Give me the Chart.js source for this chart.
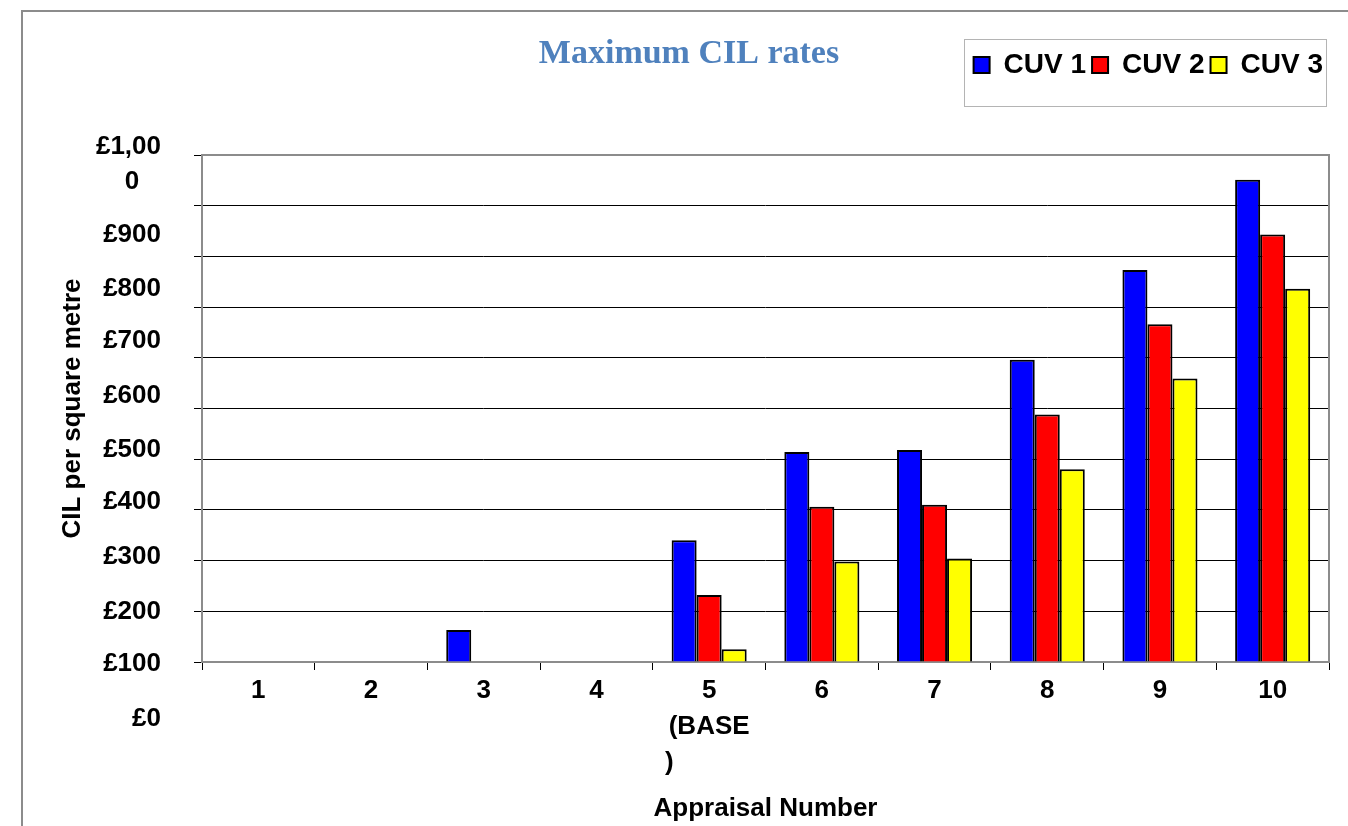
<!DOCTYPE html>
<html>
<head>
<meta charset="utf-8">
<script src="https://cdn.jsdelivr.net/npm/chart.js@4.4.1/dist/chart.umd.min.js"></script>
<style>
html,body{margin:0;padding:0;background:#fff;overflow:hidden;}
#wrap{position:relative;width:1348px;height:826px;}
#frame{position:absolute;left:21px;top:10px;width:1400px;height:900px;border-left:2px solid #8c8c8c;border-top:2px solid #8c8c8c;pointer-events:none;}
canvas{position:absolute;left:0;top:0;}
</style>
</head>
<body>
<div id="wrap"><canvas id="c" width="1348" height="826"></canvas><div id="frame"></div></div>
<script>
// ---- data ----
const categories = ['1', '2', '3', '4', ['5', '(BASE', ')'], '6', '7', '8', '9', '10'];
const seriesNames = ['CUV 1', 'CUV 2', 'CUV 3'];
const cuv1 = [null, null, 63, null, 240, 414, 418, 596, 773, 951];
const cuv2 = [null, null, null, null, 132, 306, 310, 488, 666, 843];
const cuv3 = [null, null, null, null, 25, 198, 204, 380, 559, 736];
const yTickLabels = ['£0', '£100', '£200', '£300', '£400', '£500', '£600', '£700', '£800', '£900', ['£1,00', '0']];
const chartTitle = 'Maximum CIL rates';
const xAxisTitle = 'Appraisal Number';
const yAxisTitle = 'CIL per square metre';

// ---- styling ----
const SANS = "'Liberation Sans', Arial, sans-serif";
const SERIF = "'Liberation Serif', 'Times New Roman', serif";

const decorPlugin = {
  id: 'decor',
  beforeDatasetsDraw(chart) {
    const {ctx, chartArea: a} = chart;
    ctx.save();
    ctx.strokeStyle = '#8c8c8c';
    ctx.lineWidth = 2;
    ctx.strokeRect(a.left, a.top, a.right - a.left, a.bottom - a.top);
    ctx.restore();
  },
  afterDraw(chart) {
    const hb = chart.legend && chart.legend.legendHitBoxes;
    if (!hb || !hb.length) return;
    const ctx = chart.ctx;
    const first = hb[0], last = hb[hb.length - 1];
    const x0 = Math.round(first.left - 10), x1 = Math.round(last.left + last.width + 3);
    const y0 = Math.round(first.top - 12), y1 = Math.round(first.top + 55);
    ctx.save();
    ctx.strokeStyle = '#b4b4b4';
    ctx.lineWidth = 1;
    ctx.strokeRect(x0 + 0.5, y0 + 0.5, x1 - x0, y1 - y0);
    ctx.restore();
  }
};

// per-tick line heights (px) used to nudge the y tick labels like the reference
const yLabelLineHeights = [95, 87, 83, 75, 67, 63, 57, 49, 45, 39, 35];

new Chart(document.getElementById('c'), {
  type: 'bar',
  data: {
    labels: categories,
    datasets: [
      {label: seriesNames[0], data: cuv1, backgroundColor: '#0000ff', borderColor: '#000', borderWidth: 2},
      {label: seriesNames[1], data: cuv2, backgroundColor: '#ff0000', borderColor: '#000', borderWidth: 2},
      {label: seriesNames[2], data: cuv3, backgroundColor: '#ffff00', borderColor: '#000', borderWidth: 2}
    ]
  },
  options: {
    responsive: false,
    animation: false,
    devicePixelRatio: 1,
    datasets: {bar: {categoryPercentage: 0.666, barPercentage: 1.0}},
    layout: {padding: {left: 49, right: 19, top: 45, bottom: 0}},
    plugins: {
      tooltip: {enabled: false},
      title: {
        display: true,
        text: chartTitle,
        color: '#4F81BD',
        font: {family: SERIF, size: 34, weight: 'bold', lineHeight: 1.2},
        padding: {top: -55.4, bottom: 80.6},
        weight: 500
      },
      legend: {
        display: true,
        position: 'top',
        align: 'end',
        labels: {
          color: '#000',
          font: {family: SANS, size: 28, weight: 'bold'},
          boxWidth: 16,
          boxHeight: 16,
          padding: 6
        }
      }
    },
    scales: {
      x: {
        grid: {display: true, drawOnChartArea: false, drawTicks: true, tickLength: 8, color: '#000', lineWidth: 1, offset: true},
        border: {display: false},
        ticks: {
          color: '#000',
          font: {family: SANS, size: 26, weight: 'bold', lineHeight: 1.385},
          padding: 3,
          maxRotation: 0,
          autoSkip: false,
          callback: function (v, i) {
            const l = categories[i];
            return Array.isArray(l) ? [l[0], l[1], l[2] + '           '] : l;
          }
        },
        title: {
          display: true,
          text: xAxisTitle,
          color: '#000',
          font: {family: SANS, size: 26, weight: 'bold', lineHeight: 1.2},
          padding: {top: 0, bottom: 2}
        },
        afterFit: function (s) { s.height = 164; }
      },
      y: {
        min: 0,
        max: 1000,
        grid: {color: '#000', lineWidth: 1, tickLength: 8, drawTicks: true},
        border: {display: false},
        ticks: {
          stepSize: 100,
          autoSkip: false,
          color: '#000',
          font: function (c) {
            const lh = yLabelLineHeights[c.index] || 35;
            return {family: SANS, size: 26, weight: 'bold', lineHeight: lh / 26};
          },
          padding: 33,
          labelOffset: 9.5,
          callback: function (v, i) {
            const l = yTickLabels[i];
            return Array.isArray(l) ? [l[0], l[1] + '   '] : ['', l];
          }
        },
        title: {
          display: true,
          text: yAxisTitle,
          color: '#000',
          font: {family: SANS, size: 26, weight: 'bold', lineHeight: 1.2},
          padding: {top: 8, bottom: 0}
        },
        afterFit: function (s) { s.width = 153; }
      }
    }
  },
  plugins: [decorPlugin]
});
</script>
</body>
</html>
